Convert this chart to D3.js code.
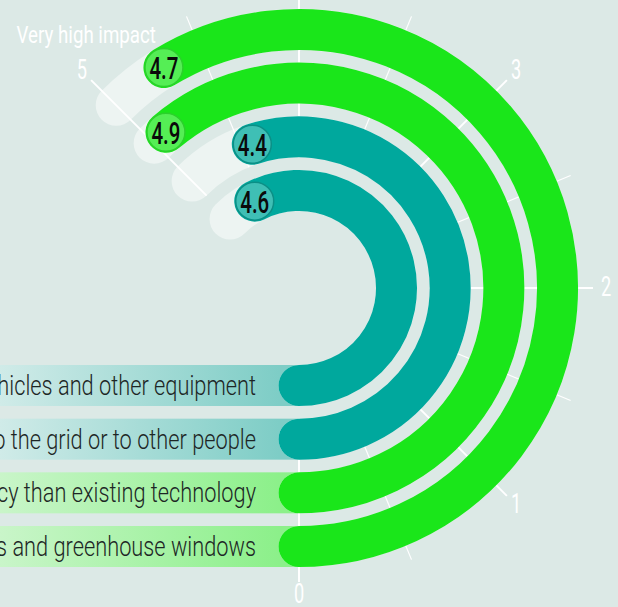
<!DOCTYPE html>
<html>
<head>
<meta charset="utf-8">
<script src="https://cdn.jsdelivr.net/npm/d3@7"></script>
<style>
    body { margin: 0; background: #dce9e6; }
    figure { margin: 0; }
    svg { display: block; }
    text { font-family: Roboto, "Noto Sans", sans-serif; }
</style>
</head>
<body>
<figure id="chart"></figure>
<script>
// outermost ring first
const categories = [
    "Integration into building facades and greenhouse windows",
    "Greater efficiency than existing technology",
    "Selling surplus electricity to the grid or to other people",
    "Charging electric vehicles and other equipment"
];
const values = [4.7, 4.9, 4.4, 4.6];
const majorTicks = [0, 1, 2, 3, 4, 5];
const minorTicks = [0.5, 1.5, 2.5, 3.5, 4.5];
const tickLabels = ["0", "1", "2", "3", "4", "5"];
const topLabel = "Very high impact";

let dimensions = {
    width: 618,
    height: 607,
    cx: 299,
    cy: 288,
};

const green = "#1ae61a", teal = "#00a89d";

const color = d3.scaleOrdinal().domain(categories).range([green, green, teal, teal]);
const badgeFill = d3.scaleOrdinal().domain(categories).range(["#55ee55", "#55ee55", "#3fbfb5", "#3fbfb5"]);
const badgeStroke = d3.scaleOrdinal().domain(categories).range(["#2cd02c", "#2cd02c", "#0b8f86", "#0b8f86"]);
const bandLeft = d3.scaleOrdinal().domain(categories).range(["#c9f5c9", "#c9f5c9", "#d0ebe8", "#d0ebe8"]);
const bandRight = d3.scaleOrdinal().domain(categories).range(["#8cf08a", "#8cf08a", "#7ecdc6", "#7ecdc6"]);

var svg = d3.select("figure#chart")
    .append("svg")
    .attr("width", dimensions.width)
    .attr("height", dimensions.height);

svg.append("rect")
    .attr("width", dimensions.width)
    .attr("height", dimensions.height)
    .attr("fill", "#dce9e6");

// value -> angle, 0 at the bottom, going round to the right and up
var angle = d3.scaleLinear()
    .domain([0, 5])
    .range([Math.PI / 2, Math.PI / 2 - 5 * Math.PI / 4]);

var ring = d3.scaleBand()
    .domain(categories)
    .range([279, 77])
    .paddingInner(0.236);

const bw = ring.bandwidth();
const mid = d => ring(d) + bw / 2;
const px = (v, r) => r * Math.cos(angle(v));
const py = (v, r) => r * Math.sin(angle(v));

function arcPath(r, v0, v1) {
    const p = d3.path();
    p.arc(0, 0, r, angle(v0), angle(v1), true);
    return p.toString();
}

// gradients for the label bands (coords of the centred group)
var defs = svg.append("defs");
categories.forEach((c, i) => {
    const g = defs.append("linearGradient")
        .attr("id", "band" + i)
        .attr("gradientUnits", "userSpaceOnUse")
        .attr("x1", -dimensions.cx).attr("x2", -20)
        .attr("y1", 0).attr("y2", 0);
    g.append("stop").attr("offset", 0).attr("stop-color", bandLeft(c));
    g.append("stop").attr("offset", 1).attr("stop-color", bandRight(c));
});

var chart = svg.append("g")
    .attr("transform", `translate(${dimensions.cx}, ${dimensions.cy})`);

// label bands
chart.selectAll("rect.band")
    .data(categories)
    .enter()
    .append("rect")
    .attr("class", "band")
    .attr("x", -dimensions.cx - 10)
    .attr("y", d => mid(d) - bw / 2)
    .attr("width", dimensions.cx + 10)
    .attr("height", bw)
    .attr("fill", (d, i) => `url(#band${i})`);

// light tracks up to 5
chart.selectAll("path.track")
    .data(categories)
    .enter()
    .append("path")
    .attr("class", "track")
    .attr("d", d => arcPath(mid(d), 0, 5))
    .attr("fill", "none")
    .attr("stroke", "#edf4f2")
    .attr("stroke-width", bw)
    .attr("stroke-linecap", "round");

// ticks
const r0 = ring(categories[2]), r1 = 279 + 15;
chart.selectAll("line.minor")
    .data(minorTicks)
    .enter()
    .append("line")
    .attr("x1", d => px(d, r0)).attr("y1", d => py(d, r0))
    .attr("x2", d => px(d, r1)).attr("y2", d => py(d, r1))
    .attr("stroke", "#fff")
    .attr("stroke-width", 1.2);

chart.selectAll("line.major")
    .data(majorTicks)
    .enter()
    .append("line")
    .attr("x1", d => px(d, r0)).attr("y1", d => py(d, r0))
    .attr("x2", d => px(d, r1)).attr("y2", d => py(d, r1))
    .attr("stroke", "#fff")
    .attr("stroke-width", 2);

// bars
chart.selectAll("path.bar")
    .data(categories)
    .enter()
    .append("path")
    .attr("class", "bar")
    .attr("d", (d, i) => arcPath(mid(d), 0, values[i]))
    .attr("fill", "none")
    .attr("stroke", d => color(d))
    .attr("stroke-width", bw)
    .attr("stroke-linecap", "round");

// value badges
var badges = chart.selectAll("g.badge")
    .data(categories)
    .enter()
    .append("g")
    .attr("class", "badge")
    .attr("transform", (d, i) => `translate(${px(values[i], mid(d))}, ${py(values[i], mid(d))})`);

badges.append("circle")
    .attr("r", 19)
    .attr("fill", d => badgeFill(d))
    .attr("stroke", d => badgeStroke(d))
    .attr("stroke-width", 1.5);

badges.append("text")
    .attr("transform", "translate(0, 11.5) scale(0.64, 1)")
    .attr("text-anchor", "middle")
    .attr("font-size", 32)
    .attr("font-weight", 500)
    .attr("fill", "#0a0a0a")
    .text((d, i) => values[i].toFixed(1));

// category labels
chart.selectAll("text.label")
    .data(categories)
    .enter()
    .append("text")
    .attr("class", "label")
    .attr("transform", d => `translate(${256 - dimensions.cx}, ${mid(d) + 9.5}) scale(0.778, 1)`)
    .attr("text-anchor", "end")
    .attr("font-size", 28)
    .attr("font-weight", 300)
    .attr("fill", "#1d2625")
    .text(d => d);

// scale labels
const rl = 307;
chart.selectAll("text.tick")
    .data(majorTicks)
    .enter()
    .append("text")
    .attr("class", "tick")
    .attr("transform", d => `translate(${px(d, rl)}, ${py(d, rl) + 8}) scale(0.65, 1)`)
    .attr("text-anchor", "middle")
    .attr("font-size", 28)
    .attr("fill", "#fff")
    .text((d, i) => tickLabels[i]);

chart.append("text")
    .attr("transform", `translate(${px(5, rl) + 74}, ${py(5, rl) - 28}) scale(0.78, 1)`)
    .attr("text-anchor", "end")
    .attr("font-size", 24)
    .attr("fill", "#fff")
    .text(topLabel);
</script>
</body>
</html>
